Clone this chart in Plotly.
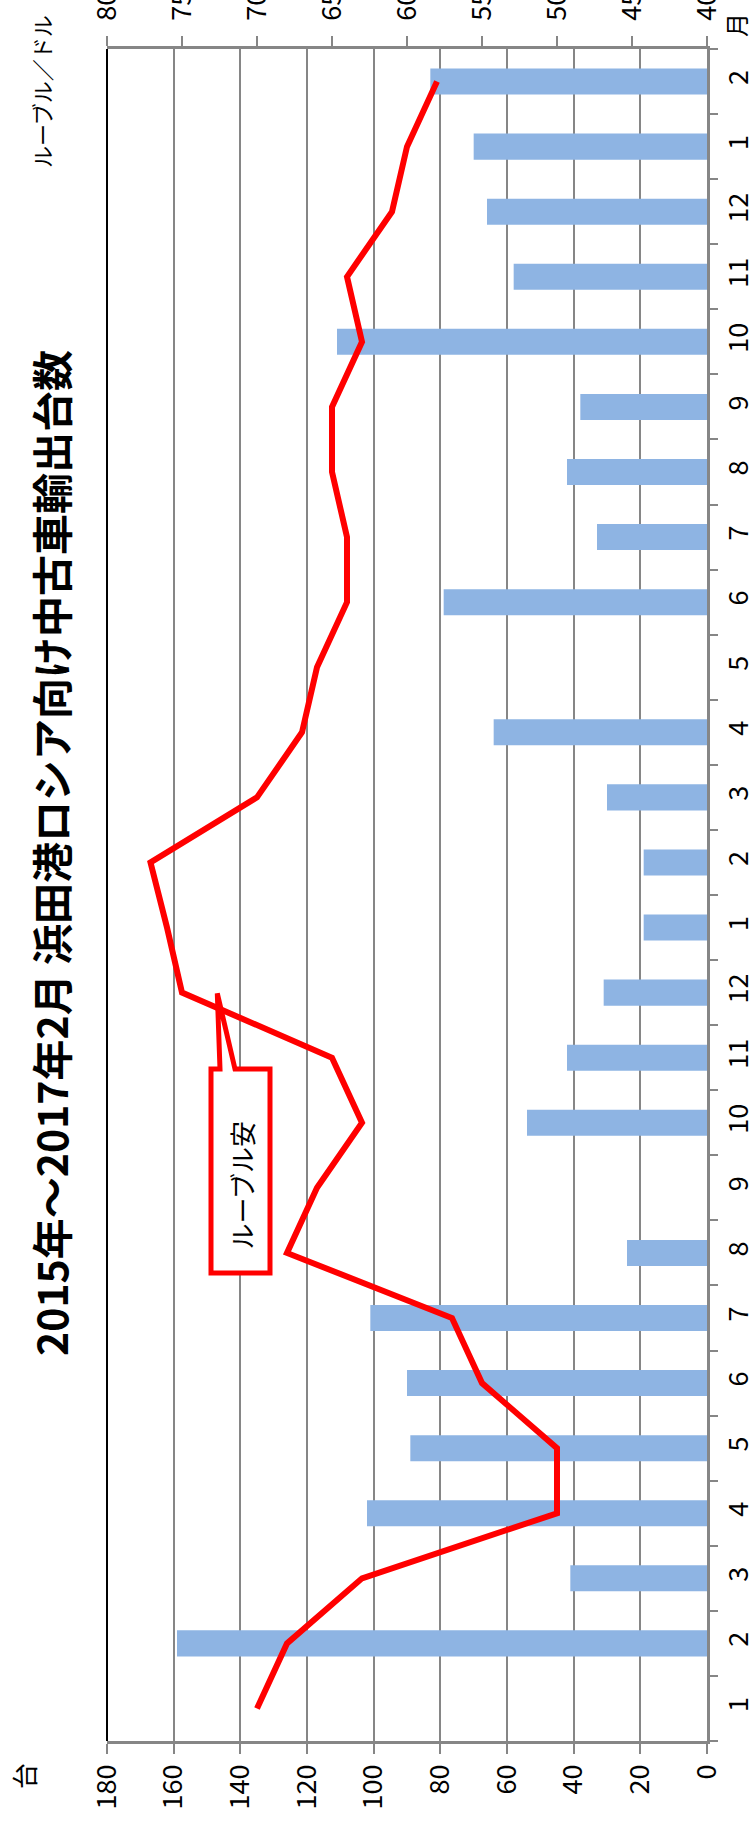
import plotly.graph_objects as go

# ---- data ----
categories = ["2015-01", "2015-02", "2015-03", "2015-04", "2015-05", "2015-06",
              "2015-07", "2015-08", "2015-09", "2015-10", "2015-11", "2015-12",
              "2016-01", "2016-02", "2016-03", "2016-04", "2016-05", "2016-06",
              "2016-07", "2016-08", "2016-09", "2016-10", "2016-11", "2016-12",
              "2017-01", "2017-02"]
month_labels = ["1", "2", "3", "4", "5", "6", "7", "8", "9", "10", "11", "12",
                "1", "2", "3", "4", "5", "6", "7", "8", "9", "10", "11", "12",
                "1", "2"]
cars = [None, 159, 41, 102, 89, 90, 101, 24, None, 54, 42, 31,
        19, 19, 30, 64, None, 79, 33, 42, 38, 111, 58, 66,
        70, 83]
rub_usd = [70, 68, 63, 50, 50, 55, 57, 68, 66, 63, 65, 75,
           76, 77.1, 70, 67, 66, 64, 64, 65, 65, 63, 64, 61,
           60, 58]
cars_ticks = [0, 20, 40, 60, 80, 100, 120, 140, 160, 180]
rub_ticks = [40, 45, 50, 55, 60, 65, 70, 75, 80]

title_text = "2015年〜2017年2月 浜田港ロシア向け中古車輸出台数"
callout_text = "ルーブル安"

# ---- geometry helpers (pixels -> paper) ----
W, H = 755, 1825
L, R, T, B = 107, 707, 49, 1741


def px(x):
    return (x - L) / (R - L)


def py(y):
    return (B - y) / (B - T)


FONT = "Noto Sans CJK JP"
GRAY = "#868686"

fig = go.Figure()
fig.add_trace(go.Bar(
    x=cars, y=categories, orientation="h", width=0.4,
    marker=dict(color="#8EB4E3", line=dict(width=0)),
    xaxis="x", yaxis="y", showlegend=False,
))
fig.add_trace(go.Scatter(
    x=rub_usd, y=categories, mode="lines",
    line=dict(color="#FF0000", width=6),
    xaxis="x2", yaxis="y", showlegend=False,
))

tickfont = dict(family=FONT, size=27, color="black")
fig.update_layout(
    width=W, height=H,
    margin=dict(l=L, r=W - R, t=T, b=H - B, autoexpand=False),
    paper_bgcolor="white", plot_bgcolor="white",
    font=dict(family=FONT, color="black"),
    xaxis=dict(
        range=[180, 0], tickvals=cars_ticks, ticktext=[str(v) for v in cars_ticks],
        showgrid=True, gridcolor=GRAY, gridwidth=2,
        showline=True, linecolor=GRAY, linewidth=2.5,
        ticks="outside", ticklen=10, tickcolor=GRAY, tickwidth=2,
        tickangle=-90, tickfont=tickfont, zeroline=False, automargin=False,
        ticklabelstandoff=0,
    ),
    xaxis2=dict(
        overlaying="x", side="top", anchor="y",
        range=[80, 40], tickvals=rub_ticks, ticktext=[str(v) for v in rub_ticks],
        showgrid=False, showline=True, linecolor=GRAY, linewidth=2.5,
        ticks="outside", ticklen=10, tickcolor=GRAY, tickwidth=2,
        tickangle=-90, tickfont=tickfont, zeroline=False, automargin=False,
        ticklabelstandoff=10,
    ),
    yaxis=dict(
        type="category", categoryorder="array", categoryarray=categories,
        range=[-0.5, len(categories) - 0.5],
        side="right", tickmode="array", tickvals=categories, ticktext=month_labels,
        tickson="boundaries", ticks="outside", ticklen=8, tickcolor=GRAY, tickwidth=2,
        showline=True, linecolor=GRAY, linewidth=2.5, showgrid=False,
        tickangle=-90, tickfont=dict(family=FONT, size=27, color="black"),
        automargin=False, zeroline=False, ticklabelstandoff=6,
    ),
)

# left border (black) of plot area
fig.add_shape(type="line", xref="paper", yref="paper", x0=0, x1=0, y0=0, y1=1,
              line=dict(color="black", width=2), layer="above")

# callout box with pointer
path = (f"M {px(211)},{py(1069)} L {px(220)},{py(1069)} L {px(217.3)},{py(993.3)} "
        f"L {px(235)},{py(1069)} L {px(270)},{py(1069)} L {px(270)},{py(1273)} "
        f"L {px(211)},{py(1273)} Z")
fig.add_shape(type="path", xref="paper", yref="paper", path=path,
              line=dict(color="#FF0000", width=5), fillcolor="white", layer="above")

ann = [
    dict(text=callout_text, x=px(240.5), y=py(1186), size=26, bold=False),
    dict(text=title_text, x=px(50), y=py(853), size=41, bold=True),
    dict(text="ルーブル／ドル", x=px(41), y=py(92), size=22, bold=False),
    dict(text="台", x=px(23), y=py(1776), size=26, bold=False),
    dict(text="月", x=px(736), y=py(25), size=24, bold=False),
]
for a in ann:
    fig.add_annotation(
        text=a["text"], x=a["x"], y=a["y"], xref="paper", yref="paper",
        xanchor="center", yanchor="middle", showarrow=False, textangle=-90,
        font=dict(family=FONT, size=a["size"], color="black",
                  weight="bold" if a["bold"] else "normal"),
    )

fig.write_html("out.html")
